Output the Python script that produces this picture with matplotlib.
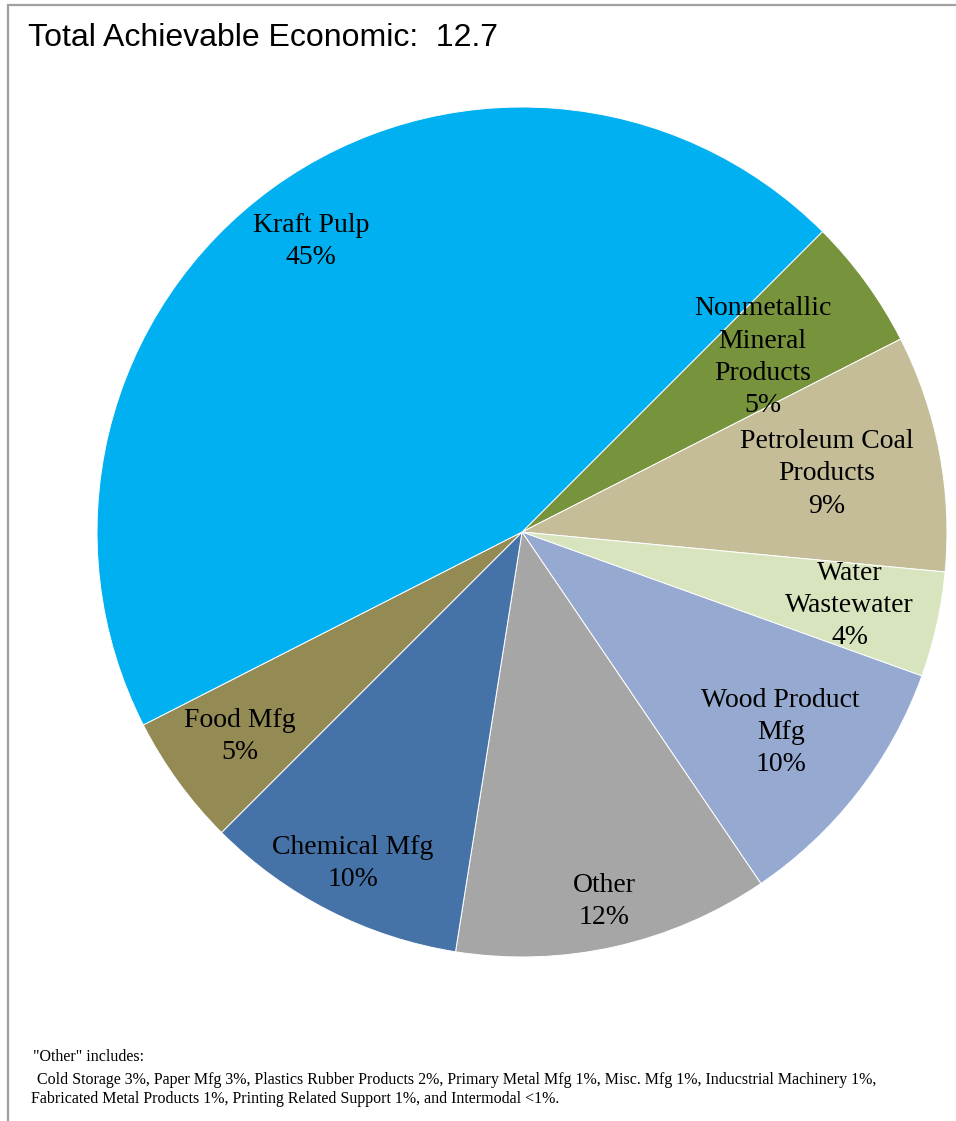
import numpy as np
import matplotlib
matplotlib.use("Agg")
import matplotlib.pyplot as plt
from matplotlib.patches import Rectangle

# Sectors in clockwise order starting at the 45-degree edge
categories = ["Nonmetallic\nMineral\nProducts", "Petroleum Coal\nProducts", "Water\nWastewater",
              "Wood Product\nMfg", "Other", "Chemical Mfg", "Food Mfg", "Kraft Pulp"]
shares = [5, 9, 4, 10, 12, 10, 5, 45]
colors = ["#77933C", "#C4BD97", "#D7E4BD", "#95A9D1", "#A6A6A6", "#4673A7", "#948A54", "#00B0F0"]
# radial placement of each label, as a fraction of the radius
label_radius = [0.70, 0.73, 0.79, 0.77, 0.89, 0.875, 0.82, 0.845]

title = "Total Achievable Economic:  12.7"
footnote = ['"Other" includes:',
            ' Cold Storage 3%, Paper Mfg 3%, Plastics Rubber Products 2%, Primary Metal Mfg 1%, Misc. Mfg 1%, Inducstrial Machinery 1%,',
            'Fabricated Metal Products 1%, Printing Related Support 1%, and Intermodal <1%.']

W, H = 956, 1121
fig = plt.figure(figsize=(W / 100, H / 100), dpi=100)
fig.patch.set_facecolor("white")

# chart-area frame (left and top edges visible)
fig.patches.append(Rectangle((8 / W, -0.05), 1.2, 1 - 5 / H + 0.05, transform=fig.transFigure,
                             facecolor="none", edgecolor="#A0A0A0", linewidth=1.6, zorder=0))

cx, cy, R = 522, 532, 425
ax = fig.add_axes([(cx - R) / W, 1 - (cy + R) / H, 2 * R / W, 2 * R / H])
wedges, _ = ax.pie(shares, colors=colors, startangle=45, counterclock=False, radius=1.0,
                   wedgeprops=dict(edgecolor="white", linewidth=0.7))
ax.set_xlim(-1, 1)
ax.set_ylim(-1, 1)
ax.set_aspect("equal")
ax.axis("off")

for w, name, val, rf in zip(wedges, categories, shares, label_radius):
    mid = np.deg2rad((w.theta1 + w.theta2) / 2)
    ax.text(rf * np.cos(mid), rf * np.sin(mid), f"{name}\n{val}%", ha="center", va="center",
            fontsize=20, family="Liberation Serif", color="black", linespacing=1.38)

fig.text(28 / W, 1 - 38 / H, title, ha="left", va="center", fontsize=23,
         family="Liberation Sans", color="black")

fy = [1057, 1080, 1099]
fx = [33, 33, 31]
for t, x, y in zip(footnote, fx, fy):
    fig.text(x / W, 1 - y / H, t, ha="left", va="center", fontsize=11.5,
             family="Liberation Serif", color="black")

fig.savefig("out.png", dpi=100, facecolor="white")
